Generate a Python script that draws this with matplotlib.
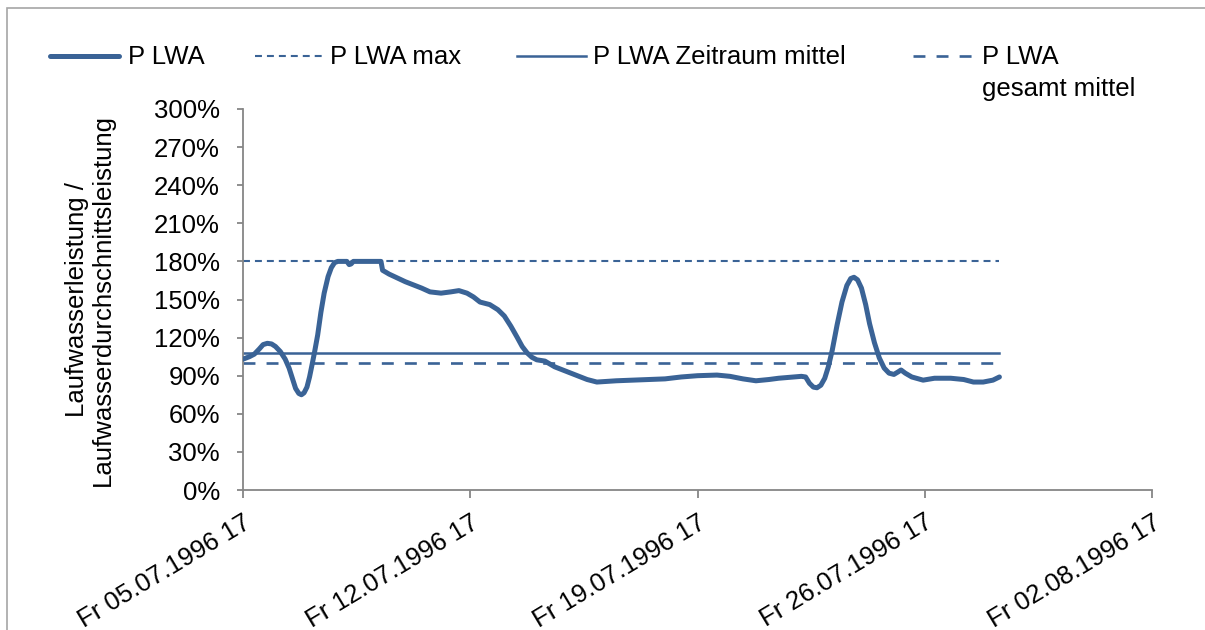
import matplotlib
matplotlib.use("Agg")
import matplotlib.pyplot as plt
from matplotlib.lines import Line2D
from matplotlib.patches import Rectangle
from matplotlib.ticker import FuncFormatter

plt.rcParams['font.family'] = ['Liberation Sans', 'DejaVu Sans']
plt.rcParams['lines.scale_dashes'] = False

# ---- data ----
tick_days = [0, 7, 14, 21, 28]
tick_labels = ["Fr 05.07.1996 17", "Fr 12.07.1996 17", "Fr 19.07.1996 17",
               "Fr 26.07.1996 17", "Fr 02.08.1996 17"]

days = [0.0, 0.2, 0.35, 0.5, 0.62, 0.75, 0.88, 1.0, 1.15, 1.3, 1.42, 1.52,
        1.62, 1.72, 1.8, 1.88, 1.97, 2.05, 2.13, 2.2, 2.3, 2.4, 2.5, 2.62,
        2.72, 2.82, 2.92, 3.2, 3.27, 3.33, 3.4, 4.25, 4.3, 4.5, 4.75, 5.0,
        5.3, 5.5, 5.76, 6.1, 6.4, 6.65, 6.9, 7.1, 7.3, 7.6, 7.85, 8.05,
        8.25, 8.45, 8.6, 8.75, 8.9, 9.05, 9.3, 9.6, 9.9, 10.3, 10.6, 10.9,
        11.2, 11.5, 12.0, 12.5, 13.0, 13.5, 14.0, 14.6, 15.0, 15.4, 15.8,
        16.2, 16.5, 17.2, 17.33, 17.45, 17.57, 17.68, 17.8, 17.92, 18.03,
        18.15, 18.3, 18.45, 18.6, 18.72, 18.82, 18.93, 19.05, 19.18, 19.3,
        19.45, 19.6, 19.75, 19.9, 20.05, 20.18, 20.27, 20.4, 20.6, 20.95,
        21.3, 21.8, 22.2, 22.5, 22.8, 23.1, 23.3]
p_lwa = [103, 105, 107, 111, 114.5, 115.5, 115, 113, 109, 103, 96, 88,
         80, 76, 75, 76.5, 81, 89, 99, 108, 122, 140, 155, 168,
         175, 179, 180, 180, 177.5, 178, 180, 180, 173, 170, 167, 164,
         161, 159, 156, 155, 156, 157, 155, 152, 148, 146, 142, 137,
         129, 120, 113, 108, 104.5, 102.5, 101.5, 97, 94, 90, 87, 85,
         85.5, 86, 86.5, 87, 87.5, 89, 90, 90.5, 89.5, 87.5, 86,
         87, 88, 89.5, 89, 84, 81, 80.5, 82.5, 88, 97,
         110, 130, 148, 161, 166.5, 167.5, 165.5, 159, 146, 131,
         116, 104, 96, 92, 91, 93, 94.5, 92, 89, 86.5,
         88, 88, 87, 85, 85, 86.5, 89]

span_days = [0.0, 23.3]
p_max = [180, 180]
p_zeitraum = [108, 108]
p_gesamt = [100, 100]

color = '#3A6396'
axis_grey = '#868686'
fs = 18.5

W, H = 1205, 630
fig = plt.figure(figsize=(W / 100, H / 100), dpi=100)
ax = fig.add_axes([243 / W, 1 - 490 / H, (1152 - 243) / W, (490 - 109) / H])

ax.plot(days, p_lwa, color=color, lw=3.6, solid_joinstyle='round',
        solid_capstyle='round', zorder=5)
ax.plot(span_days, p_max, color=color, lw=1.5, dashes=(5.0, 3.6))
ax.plot(span_days, p_zeitraum, color=color, lw=1.8)
ax.plot(span_days, p_gesamt, color=color, lw=1.9, dashes=(8.6, 8.0))

ax.set_xlim(0, 28)
ax.set_ylim(0, 300)
ax.set_yticks(range(0, 301, 30))
ax.yaxis.set_major_formatter(FuncFormatter(lambda v, p: f"{int(v)}%"))
ax.set_xticks(tick_days)
ax.set_xticklabels(tick_labels, rotation=31, ha='right', va='top',
                   rotation_mode='anchor')

for s in ['top', 'right']:
    ax.spines[s].set_visible(False)
for s in ['left', 'bottom']:
    ax.spines[s].set_color(axis_grey)
    ax.spines[s].set_linewidth(1.3)
ax.tick_params(axis='y', direction='out', length=4.5, width=1.3,
               color=axis_grey, labelsize=fs, pad=12)
ax.tick_params(axis='x', direction='out', length=5.5, width=1.3,
               color=axis_grey, labelsize=fs, pad=9)

ax.set_ylabel("Laufwasserleistung /\nLaufwasserdurchschnittsleistung",
              fontsize=fs, multialignment='center', va='center', ha='center',
              linespacing=1.1)
ax.yaxis.set_label_coords((90 - 243) / (1152 - 243), 0.5)


# ---- legend (manual placement in figure pixels) ----
def fx(x):
    return x / W


def fy(y):
    return 1 - y / H


entries = [
    (50, 119, 128, "P LWA", dict(lw=3.6, solid_capstyle='round')),
    (255, 322, 330, "P LWA max", dict(lw=1.5, dashes=(5.0, 3.6))),
    (517, 586, 593, "P LWA Zeitraum mittel", dict(lw=1.8)),
    (913, 972, 982, "P LWA\ngesamt mittel", dict(lw=1.9, dashes=(8.6, 8.0))),
]
ly = 56
for x0, x1, tx, lab, st in entries:
    fig.add_artist(Line2D([fx(x0), fx(x1)], [fy(ly), fy(ly)],
                          transform=fig.transFigure, color=color, **st))
    fig.text(fx(tx), fy(ly - 11), lab, fontsize=fs, ha='left', va='top',
             linespacing=1.4)

# chart border
fig.add_artist(Rectangle((fx(7), fy(700)), fx(1300), fy(8) - fy(700),
                         transform=fig.transFigure, fill=False,
                         edgecolor='#A6A6A6', lw=1.2))

fig.savefig("out.png", dpi=100)
